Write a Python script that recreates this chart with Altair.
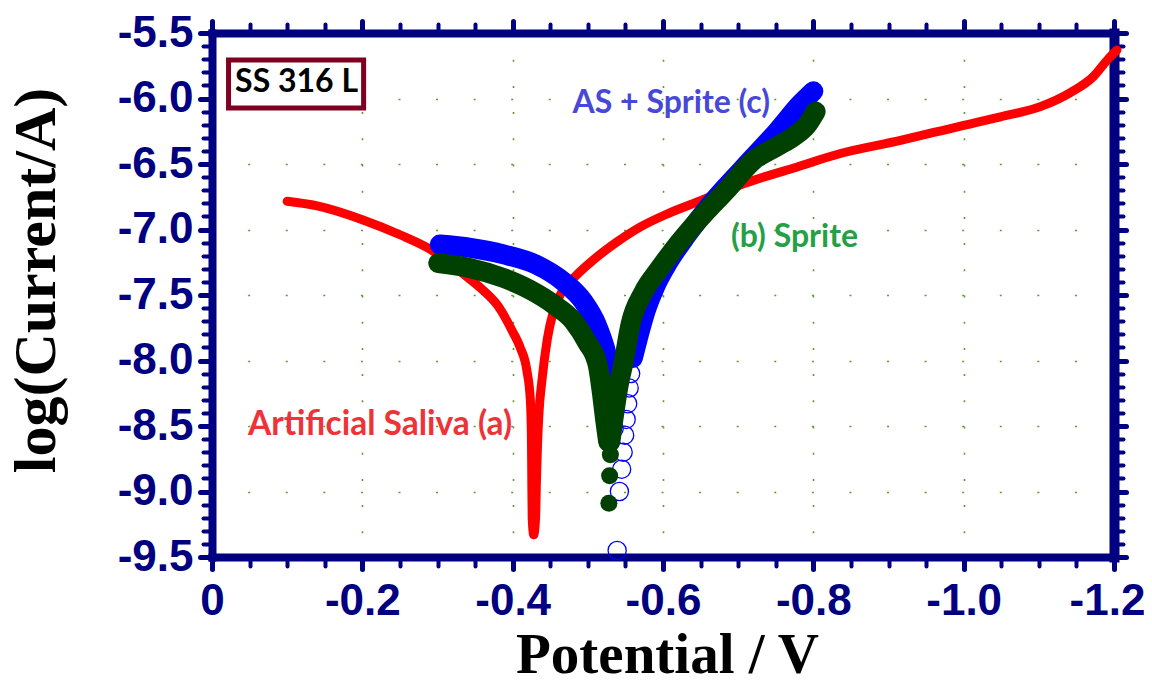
import altair as alt
import pandas as pd

# ---------------- data ----------------
# (a) Artificial Saliva
red_v = [-0.100, -0.140, -0.200, -0.250, -0.290, -0.339, -0.360, -0.380, -0.400, -0.410,
         -0.419, -0.4235, -0.425, -0.4255, -0.426, -0.428, -0.4305, -0.4315, -0.433, -0.435,
         -0.439, -0.446, -0.454, -0.466, -0.483, -0.510, -0.540, -0.570, -0.606, -0.650,
         -0.707, -0.774, -0.836, -0.916, -0.996, -1.049, -1.103, -1.142, -1.173, -1.192, -1.204]
red_l = [-6.785, -6.82, -6.925, -7.04, -7.15, -7.36, -7.46, -7.58, -7.78, -7.90,
         -8.08, -8.30, -8.60, -8.95, -9.20, -9.33, -9.20, -8.95, -8.65, -8.40,
         -8.15, -7.84, -7.63, -7.47, -7.36, -7.22, -7.09, -6.98, -6.88, -6.78,
         -6.65, -6.53, -6.42, -6.32, -6.21, -6.14, -6.06, -5.955, -5.83, -5.70, -5.63]

# (c) AS + Sprite  (dense part, cathodic and anodic branches)
blue_cat_v = [-0.303, -0.344, -0.388, -0.432, -0.468, -0.494, -0.512, -0.523, -0.530]
blue_cat_l = [-7.115, -7.14, -7.19, -7.27, -7.40, -7.55, -7.73, -7.91, -8.08]
blue_ano_v = [-0.560, -0.568, -0.577, -0.590, -0.607, -0.632, -0.663, -0.707, -0.752, -0.783, -0.800]
blue_ano_l = [-7.98, -7.80, -7.62, -7.43, -7.25, -7.04, -6.81, -6.53, -6.25, -6.04, -5.945]
# (c) sparse points near the corrosion potential
blue_tail_v = [-0.532, -0.534, -0.535, -0.539, -0.542, -0.545, -0.547, -0.549, -0.551, -0.553, -0.555, -0.557]
blue_tail_l = [-8.22, -8.38, -8.52, -9.45, -9.00, -8.83, -8.70, -8.57, -8.45, -8.33, -8.21, -8.10]

# (b) Sprite
green_cat_v = [-0.301, -0.344, -0.388, -0.423, -0.454, -0.481, -0.499, -0.513, -0.519, -0.523, -0.527]
green_cat_l = [-7.257, -7.295, -7.37, -7.46, -7.57, -7.70, -7.86, -8.03, -8.26, -8.45, -8.62]
green_ano_v = [-0.530, -0.534, -0.540, -0.548, -0.557, -0.574, -0.594, -0.614, -0.650, -0.686,
               -0.721, -0.752, -0.774, -0.792, -0.803]
green_ano_l = [-8.62, -8.45, -8.22, -8.00, -7.72, -7.48, -7.31, -7.155, -6.91, -6.69,
               -6.47, -6.365, -6.29, -6.20, -6.10]
green_tail_v = [-0.530, -0.529, -0.528]
green_tail_l = [-8.72, -8.88, -9.09]

# axis ticks
x_major = [0, -0.2, -0.4, -0.6, -0.8, -1.0, -1.2]
x_minor = [round(-0.05 * k, 2) for k in range(25)]
y_major = [-5.5, -6.0, -6.5, -7.0, -7.5, -8.0, -8.5, -9.0, -9.5]
y_minor = [round(-5.5 - 0.1 * k, 1) for k in range(41)]

# ---------------- tables ----------------
def table(v, l, branch="x"):
    df = pd.DataFrame({"v": v, "l": l})
    df["i"] = range(len(df))
    df["b"] = branch
    return df

red_df = table(red_v, red_l)
blue_df = pd.concat([table(blue_cat_v, blue_cat_l, "c"), table(blue_ano_v, blue_ano_l, "a")])
blue_tail_df = table(blue_tail_v, blue_tail_l)
green_df = pd.concat([table(green_cat_v, green_cat_l, "c"), table(green_ano_v, green_ano_l, "a")])
green_tail_df = table(green_tail_v, green_tail_l)

# ---------------- styles ----------------
NAVY = "#000080"
GRID = "#5f9a30"
TICKFONT = "Liberation Sans, Arial, sans-serif"
TITLEFONT = "Liberation Serif, Times New Roman, serif"
ANNFONT = "Lato, Open Sans, sans-serif"
W, H = 902, 524

xs = alt.Scale(domain=[-1.2, 0], reverse=True, nice=False, zero=False)
ys = alt.Scale(domain=[-9.5, -5.5], nice=False, zero=False)

common_tick = dict(tickColor=NAVY, tickCap="round")

ax_bottom = alt.Axis(orient="bottom", values=x_major,
                     labelExpr="datum.value == 0 ? '0' : replace(format(datum.value, '.1f'), '\u2212', '-')",
                     labelOffset={"condition": {"test": "datum.value < -1.15", "value": -7}, "value": 0},
                     title="Potential / V", grid=True, gridColor=GRID, gridWidth=1.6,
                     gridDash=[2, 24.2], domainColor=NAVY, domainWidth=8, domainCap="square",
                     tickSize=12, tickWidth=5, labelFont=TICKFONT, labelFontSize=44,
                     labelFontWeight="bold", labelColor=NAVY, labelPadding=10,
                     labelFlush=False, labelOverlap=False, labelBound=False,
                     titleFont=TITLEFONT, titleFontSize=57, titleFontWeight="bold",
                     titleColor="black", titleBaseline="alphabetic", titleY=115, titleX=455,
                     **common_tick)
ax_left = alt.Axis(orient="left", values=y_major,
                   labelExpr="replace(format(datum.value, '.1f'), '\u2212', '-')",
                   title="log(Current/A)", grid=True, gridColor=GRID, gridWidth=1.6,
                   gridDash=[2, 35.58], domainColor=NAVY, domainWidth=8, domainCap="square",
                   tickSize=12, tickWidth=5, labelFont=TICKFONT, labelFontSize=44,
                   labelFontWeight="bold", labelColor=NAVY, labelPadding=7,
                   labelFlush=False, labelOverlap=False, labelBound=False,
                   titleFont=TITLEFONT, titleFontSize=60, titleFontWeight="bold",
                   titleColor="black", titleBaseline="alphabetic", titleAngle=270,
                   titleX=-158, titleY=247, **common_tick)
ax_bottom_minor = alt.Axis(orient="bottom", values=x_minor, labels=False, domain=False, grid=False,
                           tickSize=9, tickWidth=4, title=None, **common_tick)
ax_left_minor = alt.Axis(orient="left", values=y_minor, labels=False, domain=False, grid=False,
                         tickSize=9, tickWidth=4, title=None, **common_tick)
ax_top = alt.Axis(orient="top", values=x_major, labels=False, grid=False, domainColor=NAVY,
                  domainWidth=8, domainCap="square", tickSize=12, tickWidth=5, title=None, **common_tick)
ax_right = alt.Axis(orient="right", values=y_major, labels=False, grid=False, domainColor=NAVY,
                    domainWidth=10, domainCap="square", tickSize=12, tickWidth=5, title=None, **common_tick)
ax_top_minor = alt.Axis(orient="top", values=x_minor, labels=False, domain=False, grid=False,
                        tickSize=9, tickWidth=4, title=None, **common_tick)
ax_right_minor = alt.Axis(orient="right", values=y_minor, labels=False, domain=False, grid=False,
                          tickSize=9, tickWidth=4, title=None, **common_tick)

# ---------------- layers ----------------
red = alt.Chart(red_df).mark_line(color="#ff0000", strokeWidth=9, strokeCap="round",
                                  strokeJoin="round", interpolate="monotone", clip=False).encode(
    x=alt.X("v:Q", scale=xs, axis=ax_bottom),
    y=alt.Y("l:Q", scale=ys, axis=ax_left),
    order="i:Q")

blue_line = alt.Chart(blue_df).mark_line(color="#0000ff", strokeWidth=20, strokeCap="round",
                                         strokeJoin="round", interpolate="monotone").encode(
    x=alt.X("v:Q", scale=xs, axis=ax_bottom_minor),
    y=alt.Y("l:Q", scale=ys, axis=ax_left_minor),
    detail="b:N", order="i:Q")

blue_rings = alt.Chart(blue_tail_df).mark_point(shape="circle", filled=False, size=330,
                                                strokeWidth=1.3, color="#0000ff", opacity=1,
                                                clip=False).encode(
    x=alt.X("v:Q", scale=xs, axis=None),
    y=alt.Y("l:Q", scale=ys, axis=None))

green_line = alt.Chart(green_df).mark_line(color="#004000", strokeWidth=20, strokeCap="round",
                                           strokeJoin="round", interpolate="monotone").encode(
    x=alt.X("v:Q", scale=xs, axis=ax_top),
    y=alt.Y("l:Q", scale=ys, axis=ax_right),
    detail="b:N", order="i:Q")

green_dots = alt.Chart(green_tail_df).mark_circle(size=290, color="#004000", opacity=1).encode(
    x=alt.X("v:Q", scale=xs, axis=ax_top_minor),
    y=alt.Y("l:Q", scale=ys, axis=ax_right_minor))

base = alt.Chart(pd.DataFrame({"k": [0]}))

box = base.mark_rect(fill="white", stroke="#7f0020", strokeWidth=5).encode(
    x=alt.XDatum(-0.022, scale=xs, axis=None), x2=alt.X2Datum(-0.2017),
    y=alt.YDatum(-5.706, scale=ys, axis=None), y2=alt.Y2Datum(-6.073))

def label(text, v, l, color, size):
    return base.mark_text(text=text, font=ANNFONT, fontSize=size, fontWeight="bold",
                          color=color, align="center", baseline="alphabetic").encode(
        x=alt.XDatum(v, scale=xs, axis=None), y=alt.YDatum(l, scale=ys, axis=None))

t_ss = label("SS 316 L", -0.1125, -5.947, "#000000", 32)
t_c = label("AS + Sprite (c)", -0.611, -6.107, "#4848d8", 32)
t_b = label("(b) Sprite", -0.775, -7.131, "#25a045", 32)
t_a = label("Artificial Saliva (a)", -0.2237, -8.567, "#ee3338", 33.5)

chart = alt.layer(red, blue_line, blue_rings, green_line, green_dots, box, t_ss, t_c, t_b, t_a).resolve_axis(
    x="independent", y="independent"
).properties(
    width=W, height=H,
    autosize=alt.AutoSizeParams(type="none"),
    padding={"left": 204, "top": 25, "right": 30, "bottom": 117},
    background="white",
).configure_view(stroke=None)

chart.save("out.html", embed_options={"renderer": "svg", "actions": False})
